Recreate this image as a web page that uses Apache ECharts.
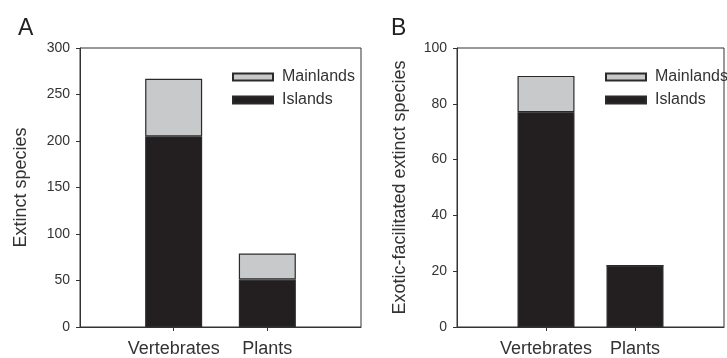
<!DOCTYPE html>
<html><head><meta charset="utf-8">
<script src="https://cdn.jsdelivr.net/npm/echarts@6/dist/echarts.min.js"></script>
<style>html,body{margin:0;padding:0;background:#fff}#c{width:727px;height:358px}</style>
</head><body><div id="c"></div>
<script>
const categories = ['Vertebrates', 'Plants'];
const seriesNames = ['Mainlands', 'Islands'];
const islandsA = [205, 51];
const mainlandsA = [62, 28];
const islandsB = [77, 22];
const mainlandsB = [13, 0];
const ticksA = { min: 0, max: 300, interval: 50 };
const ticksB = { min: 0, max: 100, interval: 20 };
const yTitleA = 'Extinct species';
const yTitleB = 'Exotic-facilitated extinct species';

const FONT = '"Liberation Sans", Arial, sans-serif';
const TXT = '#333';
const axisCats = ['', ...categories, ''];
const pad = arr => [null, ...arr, null];

function xAxis(gi) {
  return {
    type: 'category', gridIndex: gi, data: axisCats, boundaryGap: false,
    axisLine: { show: true, lineStyle: { color: '#333', width: 1 } },
    axisTick: { show: true, length: 4, lineStyle: { color: '#333' }, interval: (i, v) => v !== '' },
    axisLabel: { color: TXT, fontFamily: FONT, fontSize: 18, margin: 13, interval: 0 },
    splitLine: { show: false }
  };
}
function yAxis(gi, t, name, gap) {
  return {
    type: 'value', gridIndex: gi, min: t.min, max: t.max, interval: t.interval,
    name: name, nameLocation: 'middle', nameGap: gap, nameRotate: 90,
    nameTextStyle: { color: TXT, fontFamily: FONT, fontSize: 18 },
    axisLine: { show: true, lineStyle: { color: '#333', width: 1 } },
    axisTick: { show: true, inside: false, length: 4, lineStyle: { color: '#333' } },
    axisLabel: { color: TXT, fontFamily: FONT, fontSize: 14, margin: 10 },
    splitLine: { show: false }
  };
}
function bar(name, data, xi, color) {
  return {
    type: 'bar', name: name, xAxisIndex: xi, yAxisIndex: xi, stack: 's' + xi,
    data: pad(data), barWidth: 57,
    itemStyle: { color: color, borderColor: '#2a2a2a', borderWidth: 1.2 },
    emphasis: { disabled: true }, animation: false
  };
}
function legend(left) {
  return {
    left: left, top: 69, padding: 0, orient: 'vertical', data: seriesNames,
    icon: 'rect', itemWidth: 40, itemHeight: 7, itemGap: 7,
    textStyle: { color: TXT, fontFamily: FONT, fontSize: 16, padding: [0, 0, 0, 4] },
    selectedMode: false
  };
}

const chart = echarts.init(document.getElementById('c'), null, { renderer: 'canvas' });
chart.setOption({
  animation: false,
  title: [
    { text: 'A', left: 13, top: 12, textStyle: { fontFamily: FONT, fontSize: 23, fontWeight: 'normal', color: '#222' } },
    { text: 'B', left: 386, top: 12, textStyle: { fontFamily: FONT, fontSize: 23, fontWeight: 'normal', color: '#222' } }
  ],
  legend: [legend(232), legend(605)],
  grid: [
    { left: 80, top: 48, width: 281, height: 279, show: true, borderColor: '#333', borderWidth: 1 },
    { left: 457, top: 48, width: 281, height: 279, show: true, borderColor: '#333', borderWidth: 1 }
  ],
  xAxis: [xAxis(0), xAxis(1)],
  yAxis: [yAxis(0, ticksA, yTitleA, 50), yAxis(1, ticksB, yTitleB, 48)],
  series: [
    bar('Islands', islandsA, 0, '#231f20'),
    bar('Mainlands', mainlandsA, 0, '#c8c9ca'),
    bar('Islands', islandsB, 1, '#231f20'),
    bar('Mainlands', mainlandsB, 1, '#c8c9ca')
  ]
});
</script></body></html>
